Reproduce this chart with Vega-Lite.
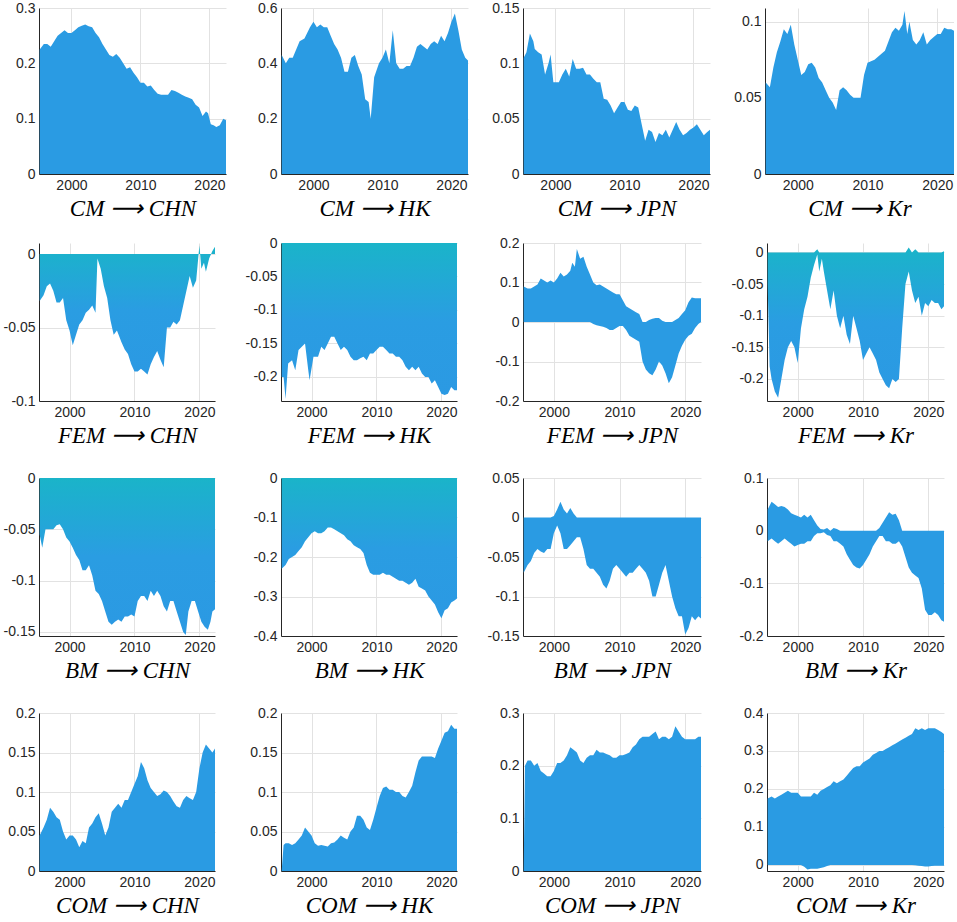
{
"$schema": "https://vega.github.io/schema/vega-lite/v6.json",
"padding": {"left": 3, "top": 1, "right": 0, "bottom": 0},
"spacing": 16,
"config": {
 "view": {"stroke": null},
 "axis": {"labelFont": "Liberation Sans", "labelFontSize": 14, "labelColor": "#262626", "domainColor": "#262626", "domainWidth": 1, "ticks": false, "gridColor": "#e2e2e2", "gridWidth": 1, "titleFont": "Liberation Serif", "titleFontStyle": "italic", "titleFontWeight": "normal", "titleFontSize": 23, "titleColor": "#000000", "labelPadding": 4, "titlePadding": 5},
 "axisY": {"minExtent": 36, "maxExtent": 36, "labelExpr": "'' + datum.value"}
},
"datasets": {
"cmchn": [{"t":1995.4,"v":0.225},{"t":1996,"v":0.235},{"t":1996.5,"v":0.235},{"t":1997,"v":0.23},{"t":1997.5,"v":0.24},{"t":1998,"v":0.25},{"t":1998.5,"v":0.255},{"t":1999,"v":0.26},{"t":1999.5,"v":0.255},{"t":2000,"v":0.255},{"t":2000.5,"v":0.26},{"t":2001,"v":0.265},{"t":2001.5,"v":0.268},{"t":2002,"v":0.27},{"t":2002.5,"v":0.267},{"t":2003,"v":0.265},{"t":2003.5,"v":0.255},{"t":2004,"v":0.247},{"t":2004.5,"v":0.235},{"t":2005,"v":0.225},{"t":2005.5,"v":0.215},{"t":2006,"v":0.212},{"t":2006.5,"v":0.217},{"t":2007,"v":0.21},{"t":2007.5,"v":0.2},{"t":2008,"v":0.19},{"t":2008.5,"v":0.193},{"t":2009,"v":0.183},{"t":2009.5,"v":0.175},{"t":2010,"v":0.165},{"t":2010.5,"v":0.165},{"t":2011,"v":0.158},{"t":2011.5,"v":0.16},{"t":2012,"v":0.152},{"t":2012.5,"v":0.145},{"t":2013,"v":0.143},{"t":2013.5,"v":0.143},{"t":2014,"v":0.143},{"t":2014.5,"v":0.152},{"t":2015,"v":0.15},{"t":2015.5,"v":0.147},{"t":2016,"v":0.143},{"t":2016.5,"v":0.14},{"t":2017,"v":0.138},{"t":2017.5,"v":0.135},{"t":2018,"v":0.125},{"t":2018.5,"v":0.12},{"t":2019,"v":0.105},{"t":2019.5,"v":0.113},{"t":2019.8,"v":0.11},{"t":2020.2,"v":0.09},{"t":2020.6,"v":0.088},{"t":2021,"v":0.085},{"t":2021.5,"v":0.088},{"t":2022,"v":0.1},{"t":2022.4,"v":0.097}],
"cmhk": [{"t":1995.4,"v":0.43},{"t":1996,"v":0.4},{"t":1996.5,"v":0.42},{"t":1997,"v":0.42},{"t":1997.5,"v":0.45},{"t":1998,"v":0.48},{"t":1998.7,"v":0.49},{"t":1999.5,"v":0.53},{"t":2000,"v":0.55},{"t":2000.5,"v":0.53},{"t":2001,"v":0.54},{"t":2001.5,"v":0.53},{"t":2002,"v":0.53},{"t":2002.5,"v":0.5},{"t":2003,"v":0.47},{"t":2003.5,"v":0.45},{"t":2004,"v":0.42},{"t":2004.5,"v":0.37},{"t":2005,"v":0.37},{"t":2005.5,"v":0.42},{"t":2006,"v":0.43},{"t":2006.5,"v":0.39},{"t":2007,"v":0.36},{"t":2007.5,"v":0.27},{"t":2008,"v":0.26},{"t":2008.3,"v":0.2},{"t":2008.8,"v":0.35},{"t":2009.5,"v":0.4},{"t":2010,"v":0.42},{"t":2010.5,"v":0.45},{"t":2011,"v":0.4},{"t":2011.5,"v":0.52},{"t":2012,"v":0.4},{"t":2012.5,"v":0.38},{"t":2013,"v":0.38},{"t":2013.5,"v":0.39},{"t":2014,"v":0.39},{"t":2014.5,"v":0.42},{"t":2015,"v":0.46},{"t":2015.5,"v":0.47},{"t":2016,"v":0.46},{"t":2016.5,"v":0.45},{"t":2017,"v":0.47},{"t":2017.5,"v":0.48},{"t":2018,"v":0.47},{"t":2018.5,"v":0.5},{"t":2019,"v":0.48},{"t":2019.5,"v":0.51},{"t":2020,"v":0.55},{"t":2020.5,"v":0.58},{"t":2021,"v":0.52},{"t":2021.5,"v":0.45},{"t":2022,"v":0.42},{"t":2022.4,"v":0.41}],
"cmjpn": [{"t":1995.4,"v":0.105},{"t":1995.8,"v":0.11},{"t":1996.3,"v":0.127},{"t":1996.8,"v":0.12},{"t":1997,"v":0.113},{"t":1997.5,"v":0.11},{"t":1998,"v":0.108},{"t":1998.5,"v":0.09},{"t":1999,"v":0.1},{"t":1999.3,"v":0.108},{"t":1999.7,"v":0.083},{"t":2000.5,"v":0.083},{"t":2001,"v":0.09},{"t":2001.5,"v":0.095},{"t":2002,"v":0.088},{"t":2002.5,"v":0.104},{"t":2003,"v":0.095},{"t":2003.5,"v":0.095},{"t":2004,"v":0.096},{"t":2004.5,"v":0.09},{"t":2005,"v":0.09},{"t":2005.5,"v":0.086},{"t":2006,"v":0.083},{"t":2006.5,"v":0.083},{"t":2007,"v":0.068},{"t":2007.5,"v":0.067},{"t":2008,"v":0.062},{"t":2008.5,"v":0.055},{"t":2009,"v":0.06},{"t":2009.5,"v":0.065},{"t":2010,"v":0.065},{"t":2010.5,"v":0.058},{"t":2011,"v":0.057},{"t":2011.5,"v":0.062},{"t":2012,"v":0.06},{"t":2012.5,"v":0.045},{"t":2013,"v":0.03},{"t":2013.5,"v":0.04},{"t":2014,"v":0.038},{"t":2014.5,"v":0.029},{"t":2015,"v":0.037},{"t":2015.5,"v":0.035},{"t":2016,"v":0.04},{"t":2016.5,"v":0.033},{"t":2017,"v":0.04},{"t":2017.5,"v":0.047},{"t":2018,"v":0.04},{"t":2018.5,"v":0.035},{"t":2019,"v":0.037},{"t":2019.5,"v":0.04},{"t":2020,"v":0.042},{"t":2020.5,"v":0.045},{"t":2021,"v":0.04},{"t":2021.5,"v":0.035},{"t":2022,"v":0.038},{"t":2022.4,"v":0.04}],
"cmkr": [{"t":1995.4,"v":0.06},{"t":1996,"v":0.057},{"t":1996.5,"v":0.07},{"t":1997,"v":0.08},{"t":1997.5,"v":0.087},{"t":1998,"v":0.095},{"t":1998.5,"v":0.092},{"t":1999,"v":0.098},{"t":1999.5,"v":0.085},{"t":2000,"v":0.075},{"t":2000.5,"v":0.065},{"t":2001,"v":0.067},{"t":2001.5,"v":0.072},{"t":2002,"v":0.073},{"t":2002.5,"v":0.07},{"t":2003,"v":0.063},{"t":2003.5,"v":0.06},{"t":2004,"v":0.055},{"t":2004.5,"v":0.05},{"t":2005,"v":0.047},{"t":2005.5,"v":0.042},{"t":2006,"v":0.055},{"t":2006.5,"v":0.057},{"t":2007,"v":0.055},{"t":2007.5,"v":0.052},{"t":2008,"v":0.05},{"t":2008.5,"v":0.05},{"t":2009,"v":0.05},{"t":2009.5,"v":0.065},{"t":2010,"v":0.073},{"t":2010.5,"v":0.074},{"t":2011,"v":0.075},{"t":2011.5,"v":0.077},{"t":2012,"v":0.079},{"t":2012.5,"v":0.081},{"t":2013,"v":0.087},{"t":2013.5,"v":0.093},{"t":2014,"v":0.096},{"t":2014.5,"v":0.094},{"t":2015,"v":0.098},{"t":2015.3,"v":0.107},{"t":2015.7,"v":0.092},{"t":2016,"v":0.1},{"t":2016.5,"v":0.088},{"t":2017,"v":0.085},{"t":2017.5,"v":0.088},{"t":2018,"v":0.093},{"t":2018.5,"v":0.085},{"t":2019,"v":0.088},{"t":2019.5,"v":0.09},{"t":2020,"v":0.092},{"t":2020.5,"v":0.092},{"t":2021,"v":0.096},{"t":2021.5,"v":0.095},{"t":2022,"v":0.095},{"t":2022.4,"v":0.094}],
"femchn": [{"t":1995.4,"v":-0.032},{"t":1996,"v":-0.028},{"t":1996.5,"v":-0.022},{"t":1997,"v":-0.02},{"t":1997.5,"v":-0.025},{"t":1998,"v":-0.033},{"t":1998.5,"v":-0.033},{"t":1999,"v":-0.03},{"t":1999.5,"v":-0.045},{"t":2000,"v":-0.052},{"t":2000.5,"v":-0.062},{"t":2001,"v":-0.055},{"t":2001.5,"v":-0.048},{"t":2002,"v":-0.045},{"t":2002.5,"v":-0.04},{"t":2003,"v":-0.038},{"t":2003.5,"v":-0.035},{"t":2004,"v":-0.04},{"t":2004.3,"v":-0.003},{"t":2004.8,"v":-0.01},{"t":2005.3,"v":-0.022},{"t":2005.8,"v":-0.03},{"t":2006.3,"v":-0.045},{"t":2006.8,"v":-0.055},{"t":2007.3,"v":-0.052},{"t":2008,"v":-0.06},{"t":2008.5,"v":-0.065},{"t":2009,"v":-0.068},{"t":2009.5,"v":-0.075},{"t":2010,"v":-0.08},{"t":2010.5,"v":-0.08},{"t":2011,"v":-0.078},{"t":2011.5,"v":-0.08},{"t":2012,"v":-0.082},{"t":2012.5,"v":-0.075},{"t":2013,"v":-0.07},{"t":2013.5,"v":-0.066},{"t":2014,"v":-0.072},{"t":2014.5,"v":-0.077},{"t":2015,"v":-0.05},{"t":2015.5,"v":-0.05},{"t":2016,"v":-0.046},{"t":2016.5,"v":-0.048},{"t":2017,"v":-0.045},{"t":2017.5,"v":-0.035},{"t":2018,"v":-0.025},{"t":2018.5,"v":-0.015},{"t":2019,"v":-0.023},{"t":2019.5,"v":-0.018},{"t":2020,"v":0.006},{"t":2020.3,"v":-0.01},{"t":2020.7,"v":-0.006},{"t":2021,"v":-0.012},{"t":2021.5,"v":-0.003},{"t":2022,"v":0.002},{"t":2022.4,"v":0.005}],
"femhk": [{"t":1995.4,"v":-0.2},{"t":1995.7,"v":-0.2},{"t":1996,"v":-0.233},{"t":1996.4,"v":-0.18},{"t":1997,"v":-0.175},{"t":1997.5,"v":-0.19},{"t":1998,"v":-0.16},{"t":1998.5,"v":-0.155},{"t":1999,"v":-0.15},{"t":1999.5,"v":-0.19},{"t":1999.7,"v":-0.205},{"t":2000.3,"v":-0.17},{"t":2001,"v":-0.17},{"t":2001.5,"v":-0.155},{"t":2002,"v":-0.16},{"t":2002.5,"v":-0.15},{"t":2003,"v":-0.14},{"t":2003.5,"v":-0.14},{"t":2004,"v":-0.15},{"t":2004.5,"v":-0.16},{"t":2005,"v":-0.155},{"t":2005.5,"v":-0.16},{"t":2006,"v":-0.17},{"t":2006.5,"v":-0.175},{"t":2007,"v":-0.175},{"t":2007.5,"v":-0.172},{"t":2008,"v":-0.17},{"t":2008.5,"v":-0.175},{"t":2009,"v":-0.165},{"t":2009.5,"v":-0.165},{"t":2010,"v":-0.16},{"t":2010.5,"v":-0.155},{"t":2011,"v":-0.155},{"t":2011.5,"v":-0.16},{"t":2012,"v":-0.165},{"t":2012.5,"v":-0.165},{"t":2013,"v":-0.17},{"t":2013.5,"v":-0.17},{"t":2014,"v":-0.175},{"t":2014.5,"v":-0.185},{"t":2015,"v":-0.19},{"t":2015.5,"v":-0.185},{"t":2016,"v":-0.19},{"t":2016.5,"v":-0.185},{"t":2017,"v":-0.195},{"t":2017.5,"v":-0.2},{"t":2018,"v":-0.2},{"t":2018.5,"v":-0.21},{"t":2019,"v":-0.205},{"t":2019.5,"v":-0.215},{"t":2020,"v":-0.225},{"t":2020.5,"v":-0.227},{"t":2021,"v":-0.225},{"t":2021.5,"v":-0.215},{"t":2022,"v":-0.22},{"t":2022.4,"v":-0.22}],
"femjpn": [{"t":1995.4,"hi":0.09,"lo":0},{"t":1996,"hi":0.085,"lo":0},{"t":1996.5,"hi":0.085,"lo":0},{"t":1997,"hi":0.09,"lo":0},{"t":1997.5,"hi":0.095,"lo":0},{"t":1998,"hi":0.11,"lo":0},{"t":1998.5,"hi":0.105,"lo":0},{"t":1999,"hi":0.1,"lo":0},{"t":1999.5,"hi":0.105,"lo":0},{"t":2000,"hi":0.1,"lo":0},{"t":2000.5,"hi":0.11,"lo":0},{"t":2001,"hi":0.125,"lo":0},{"t":2001.5,"hi":0.115,"lo":0},{"t":2002,"hi":0.12,"lo":0},{"t":2002.5,"hi":0.13,"lo":0},{"t":2002.8,"hi":0.15,"lo":0},{"t":2003.2,"hi":0.14,"lo":0},{"t":2003.5,"hi":0.185,"lo":0},{"t":2004,"hi":0.16,"lo":0},{"t":2004.5,"hi":0.165,"lo":0},{"t":2005,"hi":0.14,"lo":0},{"t":2005.5,"hi":0.12,"lo":0},{"t":2006,"hi":0.1,"lo":-0.005},{"t":2006.5,"hi":0.093,"lo":-0.008},{"t":2007,"hi":0.095,"lo":-0.01},{"t":2007.5,"hi":0.09,"lo":-0.012},{"t":2008,"hi":0.085,"lo":-0.015},{"t":2008.5,"hi":0.08,"lo":-0.02},{"t":2009,"hi":0.075,"lo":-0.02},{"t":2009.5,"hi":0.07,"lo":-0.015},{"t":2010,"hi":0.07,"lo":-0.01},{"t":2010.5,"hi":0.055,"lo":-0.01},{"t":2011,"hi":0.04,"lo":-0.02},{"t":2011.5,"hi":0.035,"lo":-0.035},{"t":2012,"hi":0.03,"lo":-0.04},{"t":2012.5,"hi":0.025,"lo":-0.045},{"t":2013,"hi":0.02,"lo":-0.05},{"t":2013.5,"hi":0,"lo":-0.1},{"t":2014,"hi":0,"lo":-0.12},{"t":2014.5,"hi":0.005,"lo":-0.13},{"t":2015,"hi":0.008,"lo":-0.135},{"t":2015.5,"hi":0.01,"lo":-0.12},{"t":2016,"hi":0.01,"lo":-0.1},{"t":2016.5,"hi":0.003,"lo":-0.11},{"t":2017,"hi":0,"lo":-0.13},{"t":2017.5,"hi":0,"lo":-0.155},{"t":2018,"hi":0,"lo":-0.14},{"t":2018.5,"hi":0.005,"lo":-0.11},{"t":2019,"hi":0.01,"lo":-0.08},{"t":2019.5,"hi":0.02,"lo":-0.06},{"t":2020,"hi":0.03,"lo":-0.045},{"t":2020.5,"hi":0.05,"lo":-0.035},{"t":2021,"hi":0.062,"lo":-0.03},{"t":2021.5,"hi":0.06,"lo":-0.015},{"t":2022,"hi":0.06,"lo":-0.005},{"t":2022.4,"hi":0.06,"lo":0}],
"femkr": [{"t":1995.4,"hi":0,"lo":-0.05},{"t":1995.7,"hi":0,"lo":-0.18},{"t":1996,"hi":0,"lo":-0.2},{"t":1996.5,"hi":0,"lo":-0.22},{"t":1997,"hi":0,"lo":-0.23},{"t":1997.5,"hi":0,"lo":-0.2},{"t":1998,"hi":0,"lo":-0.17},{"t":1998.5,"hi":0,"lo":-0.15},{"t":1999,"hi":0,"lo":-0.14},{"t":1999.5,"hi":0,"lo":-0.15},{"t":2000,"hi":0,"lo":-0.175},{"t":2000.5,"hi":0,"lo":-0.12},{"t":2001,"hi":0,"lo":-0.09},{"t":2001.5,"hi":0,"lo":-0.07},{"t":2002,"hi":0,"lo":-0.04},{"t":2002.5,"hi":0,"lo":-0.02},{"t":2003,"hi":0.005,"lo":-0.003},{"t":2003.3,"hi":0,"lo":-0.03},{"t":2003.7,"hi":0,"lo":-0.01},{"t":2004,"hi":0,"lo":-0.03},{"t":2004.5,"hi":0,"lo":-0.06},{"t":2005,"hi":0,"lo":-0.09},{"t":2005.5,"hi":0,"lo":-0.06},{"t":2006,"hi":0,"lo":-0.1},{"t":2006.5,"hi":0,"lo":-0.12},{"t":2007,"hi":0,"lo":-0.1},{"t":2007.5,"hi":0,"lo":-0.13},{"t":2008,"hi":0,"lo":-0.145},{"t":2008.5,"hi":0,"lo":-0.1},{"t":2009,"hi":0,"lo":-0.12},{"t":2009.5,"hi":0,"lo":-0.14},{"t":2010,"hi":0,"lo":-0.17},{"t":2010.5,"hi":0,"lo":-0.16},{"t":2011,"hi":0,"lo":-0.15},{"t":2011.5,"hi":0,"lo":-0.16},{"t":2012,"hi":0,"lo":-0.17},{"t":2012.5,"hi":0,"lo":-0.19},{"t":2013,"hi":0,"lo":-0.2},{"t":2013.5,"hi":0,"lo":-0.21},{"t":2014,"hi":0,"lo":-0.215},{"t":2014.5,"hi":0,"lo":-0.2},{"t":2015,"hi":0,"lo":-0.205},{"t":2015.5,"hi":0,"lo":-0.2},{"t":2016,"hi":0,"lo":-0.12},{"t":2016.5,"hi":0,"lo":-0.05},{"t":2017,"hi":0.008,"lo":-0.03},{"t":2017.5,"hi":0,"lo":-0.06},{"t":2018,"hi":0.005,"lo":-0.08},{"t":2018.5,"hi":0,"lo":-0.07},{"t":2019,"hi":0,"lo":-0.1},{"t":2019.5,"hi":0,"lo":-0.08},{"t":2020,"hi":0,"lo":-0.085},{"t":2020.5,"hi":0,"lo":-0.075},{"t":2021,"hi":0,"lo":-0.08},{"t":2021.5,"hi":0,"lo":-0.08},{"t":2022,"hi":0,"lo":-0.09},{"t":2022.4,"hi":0.002,"lo":-0.085}],
"bmchn": [{"t":1995.4,"v":-0.055},{"t":1995.8,"v":-0.068},{"t":1996.3,"v":-0.05},{"t":1997,"v":-0.05},{"t":1997.5,"v":-0.05},{"t":1998,"v":-0.046},{"t":1998.5,"v":-0.045},{"t":1999,"v":-0.05},{"t":1999.5,"v":-0.058},{"t":2000,"v":-0.062},{"t":2000.5,"v":-0.068},{"t":2001,"v":-0.075},{"t":2001.5,"v":-0.08},{"t":2002,"v":-0.09},{"t":2002.5,"v":-0.09},{"t":2003,"v":-0.085},{"t":2003.5,"v":-0.095},{"t":2004,"v":-0.11},{"t":2004.5,"v":-0.113},{"t":2005,"v":-0.12},{"t":2005.5,"v":-0.13},{"t":2006,"v":-0.14},{"t":2006.5,"v":-0.143},{"t":2007,"v":-0.14},{"t":2007.5,"v":-0.138},{"t":2008,"v":-0.14},{"t":2008.5,"v":-0.135},{"t":2009,"v":-0.135},{"t":2009.5,"v":-0.133},{"t":2010,"v":-0.135},{"t":2010.5,"v":-0.12},{"t":2011,"v":-0.115},{"t":2011.5,"v":-0.115},{"t":2012,"v":-0.12},{"t":2012.5,"v":-0.11},{"t":2013,"v":-0.115},{"t":2013.5,"v":-0.11},{"t":2014,"v":-0.115},{"t":2014.5,"v":-0.125},{"t":2015,"v":-0.13},{"t":2015.5,"v":-0.12},{"t":2016,"v":-0.12},{"t":2016.5,"v":-0.13},{"t":2017,"v":-0.14},{"t":2017.5,"v":-0.15},{"t":2017.9,"v":-0.153},{"t":2018.3,"v":-0.13},{"t":2018.8,"v":-0.12},{"t":2019.3,"v":-0.12},{"t":2019.8,"v":-0.13},{"t":2020.3,"v":-0.14},{"t":2020.8,"v":-0.145},{"t":2021.3,"v":-0.148},{"t":2021.7,"v":-0.14},{"t":2022,"v":-0.13},{"t":2022.4,"v":-0.128}],
"bmhk": [{"t":1995.4,"v":-0.23},{"t":1996,"v":-0.22},{"t":1996.5,"v":-0.205},{"t":1997,"v":-0.2},{"t":1997.5,"v":-0.195},{"t":1998,"v":-0.185},{"t":1998.5,"v":-0.175},{"t":1999,"v":-0.16},{"t":1999.5,"v":-0.15},{"t":2000,"v":-0.14},{"t":2000.5,"v":-0.135},{"t":2001,"v":-0.14},{"t":2001.5,"v":-0.14},{"t":2002,"v":-0.135},{"t":2002.5,"v":-0.125},{"t":2003,"v":-0.125},{"t":2003.5,"v":-0.13},{"t":2004,"v":-0.135},{"t":2004.5,"v":-0.14},{"t":2005,"v":-0.145},{"t":2005.5,"v":-0.155},{"t":2006,"v":-0.16},{"t":2006.5,"v":-0.17},{"t":2007,"v":-0.175},{"t":2007.5,"v":-0.18},{"t":2008,"v":-0.19},{"t":2008.5,"v":-0.22},{"t":2009,"v":-0.24},{"t":2009.5,"v":-0.245},{"t":2010,"v":-0.245},{"t":2010.5,"v":-0.245},{"t":2011,"v":-0.24},{"t":2011.5,"v":-0.245},{"t":2012,"v":-0.245},{"t":2012.5,"v":-0.25},{"t":2013,"v":-0.255},{"t":2013.5,"v":-0.26},{"t":2014,"v":-0.26},{"t":2014.5,"v":-0.265},{"t":2015,"v":-0.27},{"t":2015.5,"v":-0.265},{"t":2016,"v":-0.255},{"t":2016.5,"v":-0.275},{"t":2017,"v":-0.28},{"t":2017.5,"v":-0.285},{"t":2018,"v":-0.3},{"t":2018.5,"v":-0.31},{"t":2019,"v":-0.32},{"t":2019.5,"v":-0.34},{"t":2020,"v":-0.355},{"t":2020.5,"v":-0.335},{"t":2021,"v":-0.33},{"t":2021.5,"v":-0.315},{"t":2022,"v":-0.31},{"t":2022.4,"v":-0.305}],
"bmjpn": [{"t":1995.4,"hi":0,"lo":-0.07},{"t":1996,"hi":0,"lo":-0.06},{"t":1996.5,"hi":0,"lo":-0.055},{"t":1997,"hi":0,"lo":-0.045},{"t":1997.5,"hi":0,"lo":-0.04},{"t":1998,"hi":0,"lo":-0.043},{"t":1998.5,"hi":0,"lo":-0.045},{"t":1999,"hi":0,"lo":-0.04},{"t":1999.5,"hi":0,"lo":-0.04},{"t":2000,"hi":0.002,"lo":-0.02},{"t":2000.5,"hi":0.01,"lo":-0.01},{"t":2001,"hi":0.02,"lo":-0.02},{"t":2001.5,"hi":0.01,"lo":-0.04},{"t":2002,"hi":0.005,"lo":-0.04},{"t":2002.5,"hi":0.012,"lo":-0.035},{"t":2003,"hi":0.005,"lo":-0.03},{"t":2003.5,"hi":0,"lo":-0.025},{"t":2004,"hi":0,"lo":-0.025},{"t":2004.5,"hi":0,"lo":-0.04},{"t":2005,"hi":0,"lo":-0.06},{"t":2005.5,"hi":0,"lo":-0.065},{"t":2006,"hi":0,"lo":-0.065},{"t":2006.5,"hi":0,"lo":-0.07},{"t":2007,"hi":0,"lo":-0.075},{"t":2007.5,"hi":0,"lo":-0.085},{"t":2008,"hi":0,"lo":-0.09},{"t":2008.5,"hi":0,"lo":-0.08},{"t":2009,"hi":0,"lo":-0.065},{"t":2009.5,"hi":0,"lo":-0.06},{"t":2010,"hi":0,"lo":-0.065},{"t":2010.5,"hi":0,"lo":-0.07},{"t":2011,"hi":0,"lo":-0.075},{"t":2011.5,"hi":0,"lo":-0.07},{"t":2012,"hi":0,"lo":-0.07},{"t":2012.5,"hi":0,"lo":-0.065},{"t":2013,"hi":0,"lo":-0.06},{"t":2013.5,"hi":0,"lo":-0.065},{"t":2014,"hi":0,"lo":-0.07},{"t":2014.5,"hi":0,"lo":-0.08},{"t":2015,"hi":0,"lo":-0.1},{"t":2015.5,"hi":0,"lo":-0.1},{"t":2016,"hi":0,"lo":-0.085},{"t":2016.5,"hi":0,"lo":-0.07},{"t":2017,"hi":0,"lo":-0.06},{"t":2017.5,"hi":0,"lo":-0.08},{"t":2018,"hi":0,"lo":-0.1},{"t":2018.5,"hi":0,"lo":-0.115},{"t":2019,"hi":0,"lo":-0.125},{"t":2019.5,"hi":0,"lo":-0.125},{"t":2020,"hi":0,"lo":-0.148},{"t":2020.5,"hi":0,"lo":-0.14},{"t":2021,"hi":0,"lo":-0.125},{"t":2021.5,"hi":0,"lo":-0.13},{"t":2022,"hi":0,"lo":-0.125},{"t":2022.4,"hi":0,"lo":-0.128}],
"bmkr": [{"t":1995.4,"hi":0.04,"lo":-0.02},{"t":1996,"hi":0.055,"lo":-0.015},{"t":1996.5,"hi":0.05,"lo":-0.02},{"t":1997,"hi":0.045,"lo":-0.025},{"t":1997.5,"hi":0.047,"lo":-0.02},{"t":1998,"hi":0.045,"lo":-0.015},{"t":1998.5,"hi":0.04,"lo":-0.02},{"t":1999,"hi":0.033,"lo":-0.025},{"t":1999.5,"hi":0.03,"lo":-0.03},{"t":2000,"hi":0.028,"lo":-0.027},{"t":2000.5,"hi":0.025,"lo":-0.025},{"t":2001,"hi":0.03,"lo":-0.025},{"t":2001.5,"hi":0.025,"lo":-0.02},{"t":2002,"hi":0.03,"lo":-0.02},{"t":2002.5,"hi":0.02,"lo":-0.01},{"t":2003,"hi":0.01,"lo":-0.005},{"t":2003.5,"hi":0.003,"lo":-0.005},{"t":2004,"hi":0.002,"lo":-0.003},{"t":2004.5,"hi":0.005,"lo":-0.008},{"t":2005,"hi":0,"lo":-0.01},{"t":2005.5,"hi":0.005,"lo":-0.02},{"t":2006,"hi":0.003,"lo":-0.02},{"t":2006.5,"hi":0,"lo":-0.025},{"t":2007,"hi":0,"lo":-0.03},{"t":2007.5,"hi":0,"lo":-0.045},{"t":2008,"hi":0,"lo":-0.055},{"t":2008.5,"hi":0,"lo":-0.065},{"t":2009,"hi":0,"lo":-0.07},{"t":2009.5,"hi":0,"lo":-0.072},{"t":2010,"hi":0,"lo":-0.065},{"t":2010.5,"hi":0,"lo":-0.055},{"t":2011,"hi":0,"lo":-0.045},{"t":2011.5,"hi":0,"lo":-0.03},{"t":2012,"hi":0,"lo":-0.02},{"t":2012.5,"hi":0.005,"lo":-0.01},{"t":2013,"hi":0.015,"lo":-0.01},{"t":2013.5,"hi":0.025,"lo":-0.02},{"t":2014,"hi":0.035,"lo":-0.02},{"t":2014.5,"hi":0.03,"lo":-0.025},{"t":2015,"hi":0.032,"lo":-0.025},{"t":2015.5,"hi":0.02,"lo":-0.02},{"t":2016,"hi":0,"lo":-0.03},{"t":2016.5,"hi":0,"lo":-0.05},{"t":2017,"hi":0,"lo":-0.07},{"t":2017.5,"hi":0,"lo":-0.08},{"t":2018,"hi":0,"lo":-0.085},{"t":2018.5,"hi":0,"lo":-0.09},{"t":2019,"hi":0,"lo":-0.11},{"t":2019.5,"hi":0,"lo":-0.15},{"t":2020,"hi":0,"lo":-0.16},{"t":2020.5,"hi":0,"lo":-0.16},{"t":2021,"hi":0,"lo":-0.155},{"t":2021.5,"hi":0,"lo":-0.16},{"t":2022,"hi":0,"lo":-0.17},{"t":2022.4,"hi":0,"lo":-0.173}],
"comchn": [{"t":1995.4,"v":0.045},{"t":1996,"v":0.055},{"t":1996.5,"v":0.065},{"t":1997,"v":0.08},{"t":1997.5,"v":0.075},{"t":1998,"v":0.068},{"t":1998.5,"v":0.065},{"t":1999,"v":0.05},{"t":1999.5,"v":0.04},{"t":2000,"v":0.045},{"t":2000.5,"v":0.045},{"t":2001,"v":0.04},{"t":2001.5,"v":0.03},{"t":2002,"v":0.038},{"t":2002.5,"v":0.035},{"t":2003,"v":0.055},{"t":2003.5,"v":0.06},{"t":2004,"v":0.068},{"t":2004.5,"v":0.073},{"t":2005,"v":0.06},{"t":2005.5,"v":0.045},{"t":2006,"v":0.055},{"t":2006.5,"v":0.075},{"t":2007,"v":0.08},{"t":2007.5,"v":0.085},{"t":2008,"v":0.08},{"t":2008.5,"v":0.09},{"t":2009,"v":0.09},{"t":2009.5,"v":0.1},{"t":2010,"v":0.11},{"t":2010.5,"v":0.12},{"t":2011,"v":0.138},{"t":2011.5,"v":0.13},{"t":2012,"v":0.115},{"t":2012.5,"v":0.105},{"t":2013,"v":0.1},{"t":2013.5,"v":0.095},{"t":2014,"v":0.097},{"t":2014.5,"v":0.102},{"t":2015,"v":0.1},{"t":2015.5,"v":0.095},{"t":2016,"v":0.088},{"t":2016.5,"v":0.082},{"t":2017,"v":0.08},{"t":2017.5,"v":0.09},{"t":2018,"v":0.095},{"t":2018.5,"v":0.092},{"t":2019,"v":0.09},{"t":2019.5,"v":0.1},{"t":2020,"v":0.13},{"t":2020.5,"v":0.15},{"t":2021,"v":0.16},{"t":2021.5,"v":0.155},{"t":2022,"v":0.15},{"t":2022.4,"v":0.155}],
"comhk": [{"t":1995.4,"v":0.0},{"t":1995.7,"v":0.033},{"t":1996,"v":0.035},{"t":1996.5,"v":0.035},{"t":1997,"v":0.033},{"t":1997.5,"v":0.035},{"t":1998,"v":0.04},{"t":1998.5,"v":0.045},{"t":1999,"v":0.055},{"t":1999.5,"v":0.05},{"t":2000,"v":0.045},{"t":2000.5,"v":0.035},{"t":2001,"v":0.032},{"t":2001.5,"v":0.033},{"t":2002,"v":0.032},{"t":2002.5,"v":0.031},{"t":2003,"v":0.035},{"t":2003.5,"v":0.036},{"t":2004,"v":0.04},{"t":2004.5,"v":0.045},{"t":2005,"v":0.042},{"t":2005.5,"v":0.04},{"t":2006,"v":0.05},{"t":2006.5,"v":0.055},{"t":2007,"v":0.07},{"t":2007.5,"v":0.07},{"t":2008,"v":0.065},{"t":2008.5,"v":0.055},{"t":2009,"v":0.052},{"t":2009.5,"v":0.065},{"t":2010,"v":0.08},{"t":2010.5,"v":0.095},{"t":2011,"v":0.105},{"t":2011.5,"v":0.107},{"t":2012,"v":0.103},{"t":2012.5,"v":0.103},{"t":2013,"v":0.1},{"t":2013.5,"v":0.1},{"t":2014,"v":0.095},{"t":2014.5,"v":0.093},{"t":2015,"v":0.1},{"t":2015.5,"v":0.108},{"t":2016,"v":0.125},{"t":2016.5,"v":0.14},{"t":2017,"v":0.145},{"t":2017.5,"v":0.145},{"t":2018,"v":0.145},{"t":2018.5,"v":0.145},{"t":2019,"v":0.143},{"t":2019.5,"v":0.155},{"t":2020,"v":0.165},{"t":2020.5,"v":0.175},{"t":2021,"v":0.177},{"t":2021.5,"v":0.185},{"t":2022,"v":0.18},{"t":2022.4,"v":0.18}],
"comjpn": [{"t":1995.4,"v":0.0},{"t":1995.6,"v":0.2},{"t":1996,"v":0.21},{"t":1996.5,"v":0.21},{"t":1997,"v":0.2},{"t":1997.5,"v":0.205},{"t":1998,"v":0.19},{"t":1998.5,"v":0.185},{"t":1999,"v":0.18},{"t":1999.5,"v":0.18},{"t":2000,"v":0.19},{"t":2000.5,"v":0.205},{"t":2001,"v":0.205},{"t":2001.5,"v":0.21},{"t":2002,"v":0.22},{"t":2002.5,"v":0.235},{"t":2003,"v":0.23},{"t":2003.5,"v":0.225},{"t":2004,"v":0.21},{"t":2004.5,"v":0.205},{"t":2005,"v":0.215},{"t":2005.5,"v":0.22},{"t":2006,"v":0.22},{"t":2006.5,"v":0.23},{"t":2007,"v":0.225},{"t":2007.5,"v":0.225},{"t":2008,"v":0.222},{"t":2008.5,"v":0.22},{"t":2009,"v":0.215},{"t":2009.5,"v":0.215},{"t":2010,"v":0.22},{"t":2010.5,"v":0.22},{"t":2011,"v":0.222},{"t":2011.5,"v":0.225},{"t":2012,"v":0.235},{"t":2012.5,"v":0.24},{"t":2013,"v":0.25},{"t":2013.5,"v":0.255},{"t":2014,"v":0.255},{"t":2014.5,"v":0.255},{"t":2015,"v":0.26},{"t":2015.5,"v":0.265},{"t":2016,"v":0.25},{"t":2016.5,"v":0.255},{"t":2017,"v":0.255},{"t":2017.5,"v":0.25},{"t":2018,"v":0.255},{"t":2018.5,"v":0.275},{"t":2019,"v":0.265},{"t":2019.5,"v":0.255},{"t":2020,"v":0.25},{"t":2020.5,"v":0.25},{"t":2021,"v":0.25},{"t":2021.5,"v":0.25},{"t":2022,"v":0.255},{"t":2022.4,"v":0.255}],
"comkr": [{"t":1995.4,"hi":0.175,"lo":0},{"t":1996,"hi":0.18,"lo":0},{"t":1996.5,"hi":0.175,"lo":0},{"t":1997,"hi":0.18,"lo":0},{"t":1997.5,"hi":0.185,"lo":0},{"t":1998,"hi":0.19,"lo":0},{"t":1998.5,"hi":0.195,"lo":0},{"t":1999,"hi":0.19,"lo":0},{"t":1999.5,"hi":0.19,"lo":0},{"t":2000,"hi":0.19,"lo":0},{"t":2000.5,"hi":0.18,"lo":0},{"t":2001,"hi":0.18,"lo":-0.005},{"t":2001.5,"hi":0.18,"lo":-0.012},{"t":2002,"hi":0.18,"lo":-0.01},{"t":2002.5,"hi":0.19,"lo":-0.01},{"t":2003,"hi":0.185,"lo":-0.01},{"t":2003.5,"hi":0.195,"lo":-0.008},{"t":2004,"hi":0.2,"lo":-0.006},{"t":2004.5,"hi":0.205,"lo":-0.003},{"t":2005,"hi":0.21,"lo":0},{"t":2005.5,"hi":0.22,"lo":0},{"t":2006,"hi":0.215,"lo":0},{"t":2006.5,"hi":0.22,"lo":0},{"t":2007,"hi":0.225,"lo":0},{"t":2007.5,"hi":0.235,"lo":0},{"t":2008,"hi":0.245,"lo":0},{"t":2008.5,"hi":0.255,"lo":0},{"t":2009,"hi":0.26,"lo":0},{"t":2009.5,"hi":0.26,"lo":0},{"t":2010,"hi":0.27,"lo":0},{"t":2010.5,"hi":0.275,"lo":0},{"t":2011,"hi":0.28,"lo":0},{"t":2011.5,"hi":0.29,"lo":0},{"t":2012,"hi":0.295,"lo":0},{"t":2012.5,"hi":0.3,"lo":0},{"t":2013,"hi":0.3,"lo":0},{"t":2013.5,"hi":0.305,"lo":0},{"t":2014,"hi":0.31,"lo":0},{"t":2014.5,"hi":0.315,"lo":0},{"t":2015,"hi":0.32,"lo":0},{"t":2015.5,"hi":0.325,"lo":0},{"t":2016,"hi":0.33,"lo":0},{"t":2016.5,"hi":0.335,"lo":0},{"t":2017,"hi":0.34,"lo":0},{"t":2017.5,"hi":0.345,"lo":0},{"t":2018,"hi":0.36,"lo":-0.001},{"t":2018.5,"hi":0.355,"lo":-0.002},{"t":2019,"hi":0.36,"lo":-0.003},{"t":2019.5,"hi":0.355,"lo":-0.004},{"t":2020,"hi":0.36,"lo":-0.004},{"t":2020.5,"hi":0.36,"lo":-0.003},{"t":2021,"hi":0.36,"lo":-0.002},{"t":2021.5,"hi":0.355,"lo":-0.002},{"t":2022,"hi":0.35,"lo":-0.002},{"t":2022.4,"hi":0.345,"lo":-0.002}]
},
"vconcat": [
{"spacing": 19, "hconcat": [
{"width": 187, "height": 166, "data": {"name": "cmchn"}, "mark": {"type": "area", "color": "#2a9be3", "clip": true},
 "encoding": {"x": {"field": "t", "type": "quantitative", "scale": {"domain": [1995.3, 2022.4], "nice": false, "zero": false}, "axis": {"values": [2000, 2010, 2020], "format": "d", "title": "CM ⟶ CHN"}},
  "y": {"field": "v", "type": "quantitative", "scale": {"domain": [0, 0.3], "nice": false, "zero": false}, "axis": {"values": [0, 0.1, 0.2, 0.3], "title": null}}, "y2": {"datum": 0}}},
{"width": 187, "height": 166, "data": {"name": "cmhk"}, "mark": {"type": "area", "color": "#2a9be3", "clip": true},
 "encoding": {"x": {"field": "t", "type": "quantitative", "scale": {"domain": [1995.3, 2022.4], "nice": false, "zero": false}, "axis": {"values": [2000, 2010, 2020], "format": "d", "title": "CM ⟶ HK"}},
  "y": {"field": "v", "type": "quantitative", "scale": {"domain": [0, 0.6], "nice": false, "zero": false}, "axis": {"values": [0, 0.2, 0.4, 0.6], "title": null}}, "y2": {"datum": 0}}},
{"width": 187, "height": 166, "data": {"name": "cmjpn"}, "mark": {"type": "area", "color": "#2a9be3", "clip": true},
 "encoding": {"x": {"field": "t", "type": "quantitative", "scale": {"domain": [1995.3, 2022.4], "nice": false, "zero": false}, "axis": {"values": [2000, 2010, 2020], "format": "d", "title": "CM ⟶ JPN"}},
  "y": {"field": "v", "type": "quantitative", "scale": {"domain": [0, 0.15], "nice": false, "zero": false}, "axis": {"values": [0, 0.05, 0.1, 0.15], "title": null}}, "y2": {"datum": 0}}},
{"width": 189, "height": 166, "data": {"name": "cmkr"}, "mark": {"type": "area", "color": "#2a9be3", "clip": true},
 "encoding": {"x": {"field": "t", "type": "quantitative", "scale": {"domain": [1995.3, 2022.4], "nice": false, "zero": false}, "axis": {"values": [2000, 2010, 2020], "format": "d", "title": "CM ⟶ Kr"}},
  "y": {"field": "v", "type": "quantitative", "scale": {"domain": [0, 0.109], "nice": false, "zero": false}, "axis": {"values": [0, 0.05, 0.1], "title": null}}, "y2": {"datum": 0}}}
]},
{"spacing": 24, "vconcat": [
{"spacing": 30, "hconcat": [
{"width": 176, "height": 158, "data": {"name": "femchn"}, "mark": {"type": "area", "clip": true, "color": {"gradient": "linear", "x1": 0, "y1": 0, "x2": 0, "y2": 1, "stops": [{"offset": 0, "color": "#1ab4c9"}, {"offset": 0.5, "color": "#2a9de2"}, {"offset": 1, "color": "#2b99e3"}]}},
 "encoding": {"x": {"field": "t", "type": "quantitative", "scale": {"domain": [1995.3, 2022.4], "nice": false, "zero": false}, "axis": {"values": [2000, 2010, 2020], "format": "d", "title": "FEM ⟶ CHN"}},
  "y": {"field": "v", "type": "quantitative", "scale": {"domain": [-0.1, 0.0075], "nice": false, "zero": false}, "axis": {"values": [-0.1, -0.05, 0], "title": null}}, "y2": {"datum": 0}}},
{"width": 176, "height": 158, "data": {"name": "femhk"}, "mark": {"type": "area", "clip": true, "color": {"gradient": "linear", "x1": 0, "y1": 0, "x2": 0, "y2": 1, "stops": [{"offset": 0, "color": "#1ab4c9"}, {"offset": 0.5, "color": "#2a9de2"}, {"offset": 1, "color": "#2b99e3"}]}},
 "encoding": {"x": {"field": "t", "type": "quantitative", "scale": {"domain": [1995.3, 2022.4], "nice": false, "zero": false}, "axis": {"values": [2000, 2010, 2020], "format": "d", "title": "FEM ⟶ HK"}},
  "y": {"field": "v", "type": "quantitative", "scale": {"domain": [-0.236, 0], "nice": false, "zero": false}, "axis": {"values": [-0.2, -0.15, -0.1, -0.05, 0], "title": null}}, "y2": {"datum": 0}}},
{"width": 178, "height": 158, "data": {"name": "femjpn"}, "mark": {"type": "area", "color": "#2a9be3", "clip": true},
 "encoding": {"x": {"field": "t", "type": "quantitative", "scale": {"domain": [1995.3, 2022.4], "nice": false, "zero": false}, "axis": {"values": [2000, 2010, 2020], "format": "d", "title": "FEM ⟶ JPN"}},
  "y": {"field": "hi", "type": "quantitative", "scale": {"domain": [-0.2, 0.2], "nice": false, "zero": false}, "axis": {"values": [-0.2, -0.1, 0, 0.1, 0.2], "title": null}}, "y2": {"field": "lo"}}},
{"width": 177, "height": 158, "data": {"name": "femkr"}, "mark": {"type": "area", "clip": true, "color": {"gradient": "linear", "x1": 0, "y1": 0, "x2": 0, "y2": 1, "stops": [{"offset": 0, "color": "#1ab4c9"}, {"offset": 0.5, "color": "#2a9de2"}, {"offset": 1, "color": "#2b99e3"}]}},
 "encoding": {"x": {"field": "t", "type": "quantitative", "scale": {"domain": [1995.3, 2022.4], "nice": false, "zero": false}, "axis": {"values": [2000, 2010, 2020], "format": "d", "title": "FEM ⟶ Kr"}},
  "y": {"field": "hi", "type": "quantitative", "scale": {"domain": [-0.235, 0.015], "nice": false, "zero": false}, "axis": {"values": [-0.2, -0.15, -0.1, -0.05, 0], "title": null}}, "y2": {"field": "lo"}}}
]},
{"spacing": 30, "hconcat": [
{"width": 176, "height": 158, "data": {"name": "bmchn"}, "mark": {"type": "area", "clip": true, "color": {"gradient": "linear", "x1": 0, "y1": 0, "x2": 0, "y2": 1, "stops": [{"offset": 0, "color": "#1ab4c9"}, {"offset": 0.5, "color": "#2a9de2"}, {"offset": 1, "color": "#2b99e3"}]}},
 "encoding": {"x": {"field": "t", "type": "quantitative", "scale": {"domain": [1995.3, 2022.4], "nice": false, "zero": false}, "axis": {"values": [2000, 2010, 2020], "format": "d", "title": "BM ⟶ CHN"}},
  "y": {"field": "v", "type": "quantitative", "scale": {"domain": [-0.154, 0], "nice": false, "zero": false}, "axis": {"values": [-0.15, -0.1, -0.05, 0], "title": null}}, "y2": {"datum": 0}}},
{"width": 176, "height": 158, "data": {"name": "bmhk"}, "mark": {"type": "area", "clip": true, "color": {"gradient": "linear", "x1": 0, "y1": 0, "x2": 0, "y2": 1, "stops": [{"offset": 0, "color": "#1ab4c9"}, {"offset": 0.5, "color": "#2a9de2"}, {"offset": 1, "color": "#2b99e3"}]}},
 "encoding": {"x": {"field": "t", "type": "quantitative", "scale": {"domain": [1995.3, 2022.4], "nice": false, "zero": false}, "axis": {"values": [2000, 2010, 2020], "format": "d", "title": "BM ⟶ HK"}},
  "y": {"field": "v", "type": "quantitative", "scale": {"domain": [-0.4, 0], "nice": false, "zero": false}, "axis": {"values": [-0.4, -0.3, -0.2, -0.1, 0], "title": null}}, "y2": {"datum": 0}}},
{"width": 178, "height": 158, "data": {"name": "bmjpn"}, "mark": {"type": "area", "color": "#2a9be3", "clip": true},
 "encoding": {"x": {"field": "t", "type": "quantitative", "scale": {"domain": [1995.3, 2022.4], "nice": false, "zero": false}, "axis": {"values": [2000, 2010, 2020], "format": "d", "title": "BM ⟶ JPN"}},
  "y": {"field": "hi", "type": "quantitative", "scale": {"domain": [-0.15, 0.05], "nice": false, "zero": false}, "axis": {"values": [-0.15, -0.1, -0.05, 0, 0.05], "title": null}}, "y2": {"field": "lo"}}},
{"width": 177, "height": 158, "data": {"name": "bmkr"}, "mark": {"type": "area", "color": "#2a9be3", "clip": true},
 "encoding": {"x": {"field": "t", "type": "quantitative", "scale": {"domain": [1995.3, 2022.4], "nice": false, "zero": false}, "axis": {"values": [2000, 2010, 2020], "format": "d", "title": "BM ⟶ Kr"}},
  "y": {"field": "hi", "type": "quantitative", "scale": {"domain": [-0.2, 0.1], "nice": false, "zero": false}, "axis": {"values": [-0.2, -0.1, 0, 0.1], "title": null}}, "y2": {"field": "lo"}}}
]},
{"spacing": 30, "hconcat": [
{"width": 176, "height": 158, "data": {"name": "comchn"}, "mark": {"type": "area", "color": "#2a9be3", "clip": true},
 "encoding": {"x": {"field": "t", "type": "quantitative", "scale": {"domain": [1995.3, 2022.4], "nice": false, "zero": false}, "axis": {"values": [2000, 2010, 2020], "format": "d", "title": "COM ⟶ CHN"}},
  "y": {"field": "v", "type": "quantitative", "scale": {"domain": [0, 0.2], "nice": false, "zero": false}, "axis": {"values": [0, 0.05, 0.1, 0.15, 0.2], "title": null}}, "y2": {"datum": 0}}},
{"width": 176, "height": 158, "data": {"name": "comhk"}, "mark": {"type": "area", "color": "#2a9be3", "clip": true},
 "encoding": {"x": {"field": "t", "type": "quantitative", "scale": {"domain": [1995.3, 2022.4], "nice": false, "zero": false}, "axis": {"values": [2000, 2010, 2020], "format": "d", "title": "COM ⟶ HK"}},
  "y": {"field": "v", "type": "quantitative", "scale": {"domain": [0, 0.2], "nice": false, "zero": false}, "axis": {"values": [0, 0.05, 0.1, 0.15, 0.2], "title": null}}, "y2": {"datum": 0}}},
{"width": 178, "height": 158, "data": {"name": "comjpn"}, "mark": {"type": "area", "color": "#2a9be3", "clip": true},
 "encoding": {"x": {"field": "t", "type": "quantitative", "scale": {"domain": [1995.3, 2022.4], "nice": false, "zero": false}, "axis": {"values": [2000, 2010, 2020], "format": "d", "title": "COM ⟶ JPN"}},
  "y": {"field": "v", "type": "quantitative", "scale": {"domain": [0, 0.3], "nice": false, "zero": false}, "axis": {"values": [0, 0.1, 0.2, 0.3], "title": null}}, "y2": {"datum": 0}}},
{"width": 177, "height": 158, "data": {"name": "comkr"}, "mark": {"type": "area", "color": "#2a9be3", "clip": true},
 "encoding": {"x": {"field": "t", "type": "quantitative", "scale": {"domain": [1995.3, 2022.4], "nice": false, "zero": false}, "axis": {"values": [2000, 2010, 2020], "format": "d", "title": "COM ⟶ Kr"}},
  "y": {"field": "hi", "type": "quantitative", "scale": {"domain": [-0.016, 0.4], "nice": false, "zero": false}, "axis": {"values": [0, 0.1, 0.2, 0.3, 0.4], "title": null}}, "y2": {"field": "lo"}}}
]}
]}
]
}
